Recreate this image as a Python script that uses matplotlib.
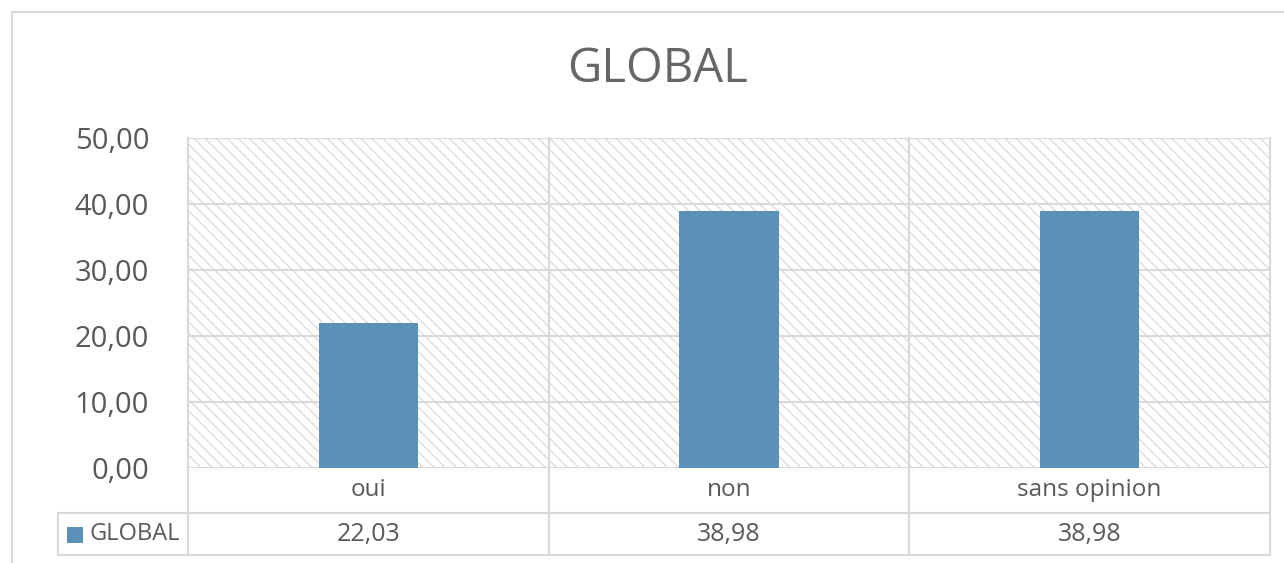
import matplotlib.pyplot as plt
import matplotlib.transforms as mtransforms
from matplotlib.patches import Rectangle
from matplotlib.lines import Line2D

categories = ["oui", "non", "sans opinion"]
values = [22.03, 38.98, 38.98]
value_labels = ["22,03", "38,98", "38,98"]
series_name = "GLOBAL"
yticks = [0, 10, 20, 30, 40, 50]
ytick_labels = ["0,00", "10,00", "20,00", "30,00", "40,00", "50,00"]

bar_color = "#5B91B6"
grid_color = "#D9D9D9"
text_color = "#595959"

plt.rcParams["font.family"] = ["Open Sans", "DejaVu Sans"]
plt.rcParams["hatch.linewidth"] = 1.0

W, H = 1284, 563
fig = plt.figure(figsize=(W / 100, H / 100), dpi=100)

# outer chart frame
fig.add_artist(Rectangle((12 / W, -0.1), 1.2, 1 - 12 / H + 0.1, transform=fig.transFigure,
                         fill=False, edgecolor=grid_color, linewidth=1.5))

left, right, bottom, top = 188 / W, 1270 / W, 1 - 468 / H, 1 - 138 / H
ax = fig.add_axes([left, bottom, right - left, top - bottom])
ax.set_xlim(-0.5, len(categories) - 0.5)
ax.set_ylim(0, 50)

# hatched plot background
ax.add_patch(Rectangle((0, 0), 1, 1, transform=ax.transAxes, facecolor="white",
                       edgecolor="#DEDEDE", hatch="\\\\\\", linewidth=0, zorder=0))

for y in yticks:
    ax.axhline(y, color=grid_color, linewidth=1.5, zorder=1)

ax.bar(range(len(categories)), values, width=0.275, color=bar_color, zorder=3)

ax.set_yticks(yticks)
ax.set_yticklabels(ytick_labels, fontsize=21, color=text_color)
ax.tick_params(axis="y", length=0, pad=28)
ax.set_xticks([])
for s in ax.spines.values():
    s.set_visible(False)

# data table below the plot
ax_h = (top - bottom) * H  # axes height in pixels
row1 = -45 / ax_h
row2 = -87 / ax_h
blend = mtransforms.blended_transform_factory(ax.transData, ax.transAxes)

for x in [-0.5, 0.5, 1.5, 2.5]:
    ax.add_line(Line2D([x, x], [row2, 1], transform=blend, color=grid_color,
                       linewidth=1.5, clip_on=False, zorder=2))
for r in [row1, row2]:
    ax.add_line(Line2D([-0.5, 2.5], [r, r], transform=blend, color=grid_color,
                       linewidth=1.5, clip_on=False))

# legend key cell
fig.add_artist(Line2D([58 / W, 58 / W], [1 - 555 / H, 1 - 513 / H], transform=fig.transFigure,
                      color=grid_color, linewidth=1.5))
for yy in [513, 555]:
    fig.add_artist(Line2D([58 / W, left], [1 - yy / H, 1 - yy / H], transform=fig.transFigure,
                          color=grid_color, linewidth=1.5))

for i, (cat, lab) in enumerate(zip(categories, value_labels)):
    ax.text(i, (0 + row1) / 2, cat, transform=blend, ha="center", va="center",
            fontsize=17.5, color=text_color)
    ax.text(i, (row1 + row2) / 2, lab, transform=blend, ha="center", va="center",
            fontsize=18, color=text_color)

fig.add_artist(Rectangle((67 / W, 1 - 543 / H), 16 / W, 16 / H, transform=fig.transFigure,
                         facecolor=bar_color, edgecolor="none"))
fig.text(90 / W, 1 - 534 / H, series_name, ha="left", va="center", fontsize=17, color=text_color)

fig.text(657 / W, 1 - 69 / H, "GLOBAL", ha="center", va="center", fontsize=34, color="#666666")

fig.savefig("out.png", dpi=100)
